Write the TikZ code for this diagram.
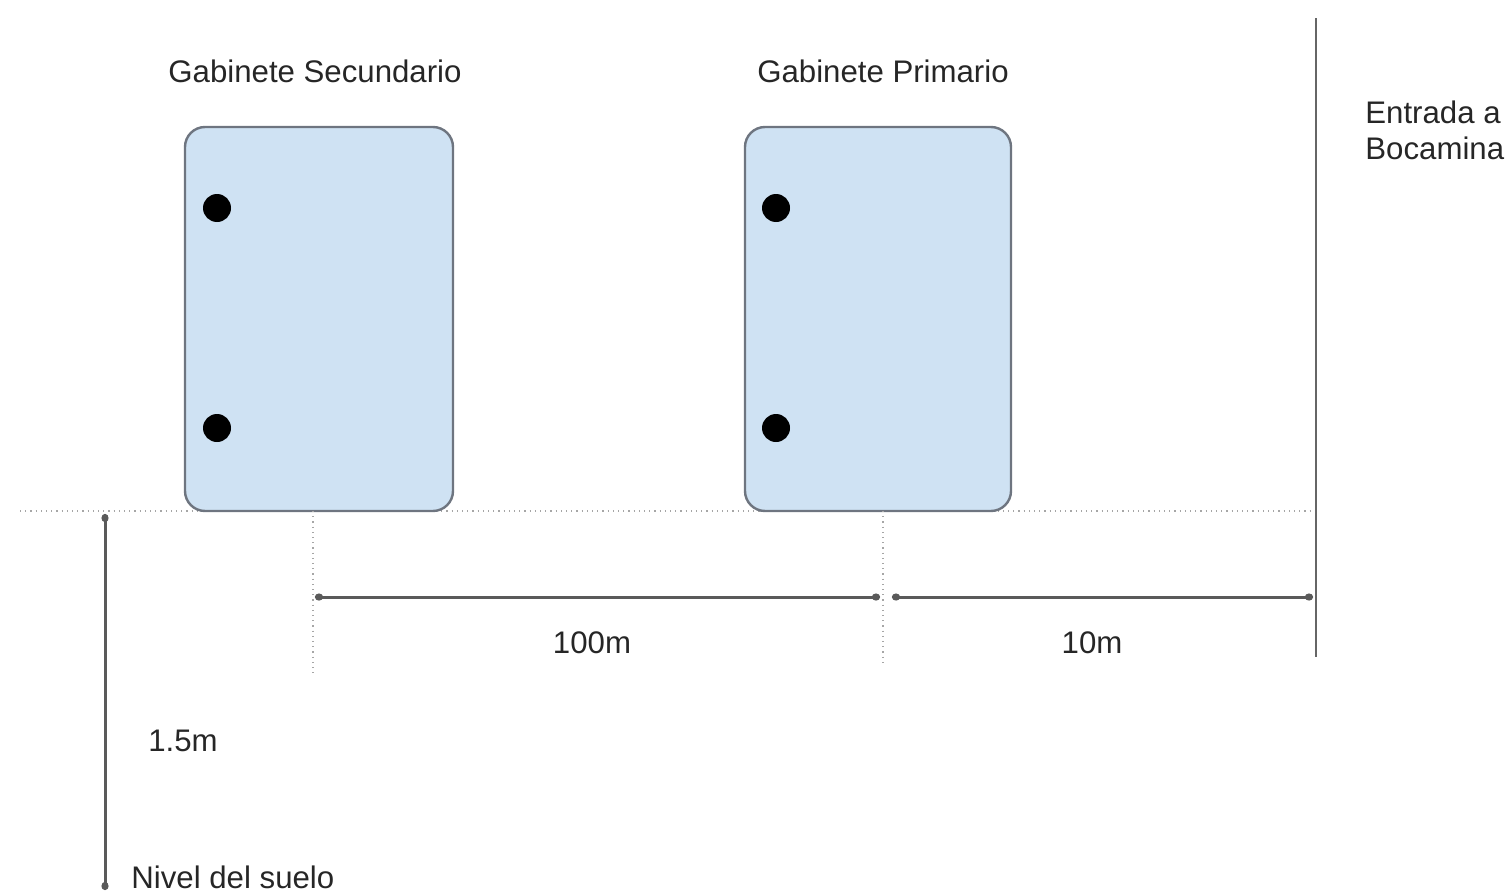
\documentclass[tikz,border=0pt]{standalone}
\usepackage{fontspec}
\setmainfont{Liberation Sans}
\usetikzlibrary{arrows.meta}
\definecolor{boxfill}{HTML}{CFE2F3}
\definecolor{boxline}{HTML}{6E7580}
\definecolor{dimline}{HTML}{5A5A5A}
\begin{document}
\begin{tikzpicture}[x=0.5pt,y=-0.5pt,
  cab/.style={draw=boxline,line width=1.2pt,fill=boxfill,rounded corners=10pt},
  dot/.style={circle,fill=black,inner sep=0pt,minimum size=14pt},
  lbl/.style={font=\fontsize{15.6}{18}\selectfont,text=black!85,inner sep=0pt},
  dim/.style={draw=dimline,line width=1.5pt,{Circle[length=4pt,width=3.5pt]}-{Circle[length=4pt,width=3.5pt]}},
  guide/.style={draw=gray!70,line width=0.6pt,dotted}]
\useasboundingbox (0,0) rectangle (1506,894);
% ground line
\coordinate (g0) at (20,511);
\coordinate (g1) at (1316,511);
\draw[guide] (g0) -- (g1);
% cabinets
\draw[cab] (185,127) rectangle (453,511);
\draw[cab] (745,127) rectangle (1011,511);
\node[dot] (s1) at (217,208) {};
\node[dot] (s2) at (217,428) {};
\node[dot] (p1) at (776,208) {};
\node[dot] (p2) at (776,428) {};
% titles
\node[lbl] (tsec) at (315,71) {Gabinete Secundario};
\node[lbl] (tpri) at (883,71) {Gabinete Primario};
% entrance line
\coordinate (e0) at (1316,18);
\coordinate (e1) at (1316,657);
\draw[draw=gray!80!black,line width=1.3pt] (e0) -- (e1);
\node[lbl,anchor=west,align=left] (ent) at (1365,130) {Entrada a\\Bocamina};
% guide verticals
\coordinate (v1a) at (313,511);
\coordinate (v1b) at (313,675);
\coordinate (v2a) at (883,511);
\coordinate (v2b) at (883,665);
\draw[guide] (v1a) -- (v1b);
\draw[guide] (v2a) -- (v2b);
% dimension lines
\coordinate (d1a) at (315,597);
\coordinate (d1b) at (880,597);
\coordinate (d2a) at (892,597);
\coordinate (d2b) at (1313,597);
\draw[dim] (d1a) -- (d1b);
\draw[dim] (d2a) -- (d2b);
\node[lbl] (l100) at (592,643) {100m};
\node[lbl] (l10) at (1092,643) {10m};
% height
\coordinate (h0) at (105,514);
\coordinate (h1) at (105,890);
\draw[dim] (h0) -- (h1);
\node[lbl] (l15) at (183,741) {1.5m};
\node[lbl,anchor=west] (niv) at (131,877) {Nivel del suelo};
\end{tikzpicture}
\end{document}
